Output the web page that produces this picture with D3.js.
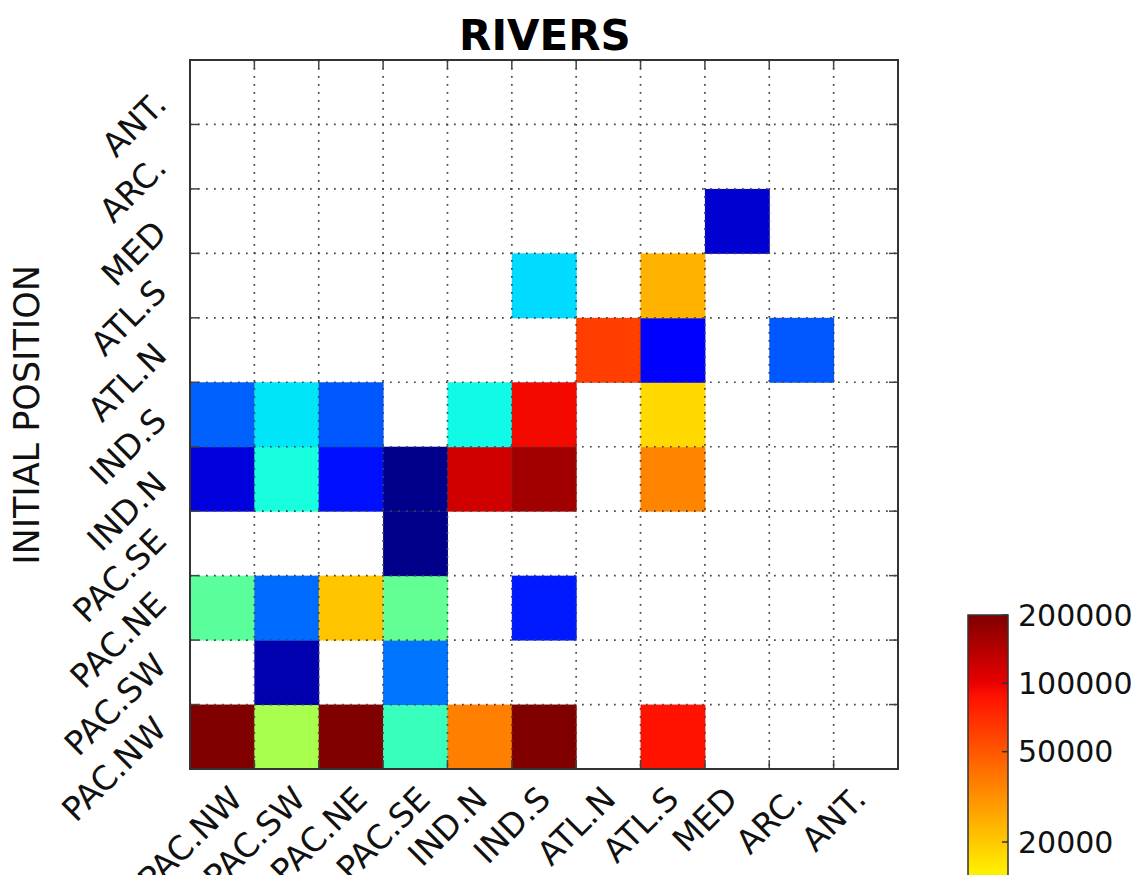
<!DOCTYPE html>
<html>
<head>
<meta charset="utf-8">
<script src="https://cdn.jsdelivr.net/npm/d3@7"></script>
<style>
  body { margin: 0; background: #fff; }
  svg { display: block; font-family: "DejaVu Sans", sans-serif; }
</style>
</head>
<body>
<svg id="chart" width="1137" height="875"></svg>
<script>
// regions, used for both axes (initial position = rows, final position = columns)
const regions = ["PAC.NW", "PAC.SW", "PAC.NE", "PAC.SE", "IND.N", "IND.S", "ATL.N", "ATL.S", "MED", "ARC.", "ANT."];

// counts per initial position, one value per final position (null = empty)
const fromPacNW = [200000, 6790, 200000, 2430, 36100, 200000, null, 86700, null, null, null];
const fromPacSW = [null, 136, null, 620, null, null, null, null, null, null, null];
const fromPacNE = [3300, 574, 20460, 3560, null, 313, null, null, null, null, null];
const fromPacSE = [null, null, null, 108, null, null, null, null, null, null, null];
const fromIndN  = [184, 1790, 290, 108, 117500, 159200, null, 34800, null, null, null];
const fromIndS  = [532, 1430, 493, null, 1660, 93500, null, 17580, null, null, null];
const fromAtlN  = [null, null, null, null, null, null, 61500, 231, null, 493, null];
const fromAtlS  = [null, null, null, null, null, 1320, null, 23800, null, null, null];
const fromMed   = [null, null, null, null, null, null, null, null, 170, null, null];
const fromArc   = [null, null, null, null, null, null, null, null, null, null, null];
const fromAnt   = [null, null, null, null, null, null, null, null, null, null, null];

const colorTicks = [200000, 100000, 50000, 20000, 10000, 5000, 2000, 1000, 500, 200, 100];
const vmin = 100, vmax = 200000;

const matrix = [fromPacNW, fromPacSW, fromPacNE, fromPacSE, fromIndN, fromIndS,
                fromAtlN, fromAtlS, fromMed, fromArc, fromAnt];

const cells = [];
matrix.forEach((row, i) => {
  row.forEach((v, j) => {
    if (v != null) cells.push({ from: regions[i], to: regions[j], value: v });
  });
});

// matplotlib "jet"
const seg = (pts) => d3.scaleLinear().domain(pts.map((p) => p[0])).range(pts.map((p) => p[1])).clamp(true);
const jetR = seg([[0, 0], [0.35, 0], [0.66, 1], [0.89, 1], [1, 0.5]]);
const jetG = seg([[0, 0], [0.125, 0], [0.375, 1], [0.64, 1], [0.91, 0], [1, 0]]);
const jetB = seg([[0, 0.5], [0.11, 1], [0.34, 1], [0.65, 0], [1, 0]]);
const jet = (t) => d3.rgb(255 * jetR(t), 255 * jetG(t), 255 * jetB(t)).toString();

const norm = d3.scaleLog().domain([vmin, vmax]).range([0, 1]).clamp(true);
const color = (v) => jet(norm(v));

const svg = d3.select("#chart");
const plotLeft = 190, plotRight = 898, plotTop = 60, plotBottom = 769;

const x = d3.scaleBand().domain(regions).range([plotLeft, plotRight]);
const y = d3.scaleBand().domain(regions).range([plotBottom, plotTop]);
const xLin = d3.scaleLinear().domain([0, regions.length]).range([plotLeft, plotRight]);
const yLin = d3.scaleLinear().domain([0, regions.length]).range([plotBottom, plotTop]);

// cells
svg.append("g")
  .selectAll("rect")
  .data(cells)
  .join("rect")
  .attr("x", (d) => x(d.to))
  .attr("y", (d) => y(d.from))
  .attr("width", x.bandwidth() + 0.5)
  .attr("height", y.bandwidth() + 0.5)
  .attr("fill", (d) => color(d.value));

// dotted grid
const gridIdx = d3.range(1, regions.length);
const grid = svg.append("g")
  .attr("stroke", "#444")
  .attr("stroke-width", 1.7)
  .attr("stroke-dasharray", "1.7,6.3");
grid.selectAll(".gx").data(gridIdx).join("line")
  .attr("class", "gx")
  .attr("x1", (d) => xLin(d)).attr("x2", (d) => xLin(d))
  .attr("y1", plotTop).attr("y2", plotBottom);
grid.selectAll(".gy").data(gridIdx).join("line")
  .attr("class", "gy")
  .attr("y1", (d) => yLin(d)).attr("y2", (d) => yLin(d))
  .attr("x1", plotLeft).attr("x2", plotRight);

// inward ticks on all four sides
const ticks = svg.append("g").attr("stroke", "#444").attr("stroke-width", 1.5);
gridIdx.forEach((i) => {
  ticks.append("line").attr("x1", xLin(i)).attr("x2", xLin(i)).attr("y1", plotTop).attr("y2", plotTop + 9);
  ticks.append("line").attr("x1", xLin(i)).attr("x2", xLin(i)).attr("y1", plotBottom).attr("y2", plotBottom - 9);
  ticks.append("line").attr("y1", yLin(i)).attr("y2", yLin(i)).attr("x1", plotLeft).attr("x2", plotLeft + 9);
  ticks.append("line").attr("y1", yLin(i)).attr("y2", yLin(i)).attr("x1", plotRight).attr("x2", plotRight - 9);
});

// frame
svg.append("rect")
  .attr("x", plotLeft).attr("y", plotTop)
  .attr("width", plotRight - plotLeft).attr("height", plotBottom - plotTop)
  .attr("fill", "none").attr("stroke", "#333").attr("stroke-width", 2);

// rotated tick labels, placed by their rotated bounding box like matplotlib
function placeLabel(g, txt, fit) {
  const t = g.append("text")
    .attr("font-size", 33)
    .attr("fill", "#111")
    .attr("text-anchor", "middle")
    .attr("transform", "translate(0,0) rotate(-45)")
    .text(txt);
  const r = t.node().getBoundingClientRect();
  const [dx, dy] = fit(r);
  t.attr("transform", `translate(${dx},${dy}) rotate(-45)`);
}

const labels = svg.append("g");
regions.forEach((name, i) => {
  // y tick labels: right edge of box at left - pad, centred on boundary
  placeLabel(labels, name, (r) => [174 - r.right, yLin(i) - (r.top + r.bottom) / 2]);
  // x tick labels: box centred on boundary, top below the axis
  placeLabel(labels, name, (r) => [xLin(i) - (r.left + r.right) / 2, 779 - r.top]);
});

// title and axis label
svg.append("text")
  .attr("x", (plotLeft + plotRight) / 2 + 1)
  .attr("y", 50)
  .attr("text-anchor", "middle")
  .attr("font-size", 42)
  .attr("font-weight", "bold")
  .attr("fill", "#000")
  .text("RIVERS");

svg.append("text")
  .attr("transform", "translate(39,415) rotate(-90)")
  .attr("text-anchor", "middle")
  .attr("font-size", 35)
  .attr("fill", "#111")
  .text("INITIAL POSITION");

// colorbar (log scale, runs past the bottom of the frame)
const cbLeft = 968, cbRight = 1008, cbTop = 615;
const cbBottom = cbTop + 227 * Math.log10(vmax / vmin);
const cb = d3.scaleLog().domain([vmin, vmax]).range([cbBottom, cbTop]);

svg.append("g")
  .selectAll("rect")
  .data(d3.range(cbTop, cbBottom, 2))
  .join("rect")
  .attr("x", cbLeft)
  .attr("y", (d) => d)
  .attr("width", cbRight - cbLeft)
  .attr("height", 2.5)
  .attr("fill", (d) => color(cb.invert(d + 1)));

svg.append("rect")
  .attr("x", cbLeft).attr("y", cbTop)
  .attr("width", cbRight - cbLeft).attr("height", cbBottom - cbTop)
  .attr("fill", "none").attr("stroke", "#333").attr("stroke-width", 1.5);

const cbTicks = svg.append("g");
cbTicks.selectAll("line")
  .data(colorTicks)
  .join("line")
  .attr("x1", cbRight - 6).attr("x2", cbRight)
  .attr("y1", (d) => cb(d)).attr("y2", (d) => cb(d))
  .attr("stroke", "#333").attr("stroke-width", 1.5);
cbTicks.selectAll("text")
  .data(colorTicks)
  .join("text")
  .attr("x", cbRight + 10)
  .attr("y", (d) => cb(d))
  .attr("dy", "0.36em")
  .attr("font-size", 30)
  .attr("fill", "#111")
  .text((d) => d);
</script>
</body>
</html>
